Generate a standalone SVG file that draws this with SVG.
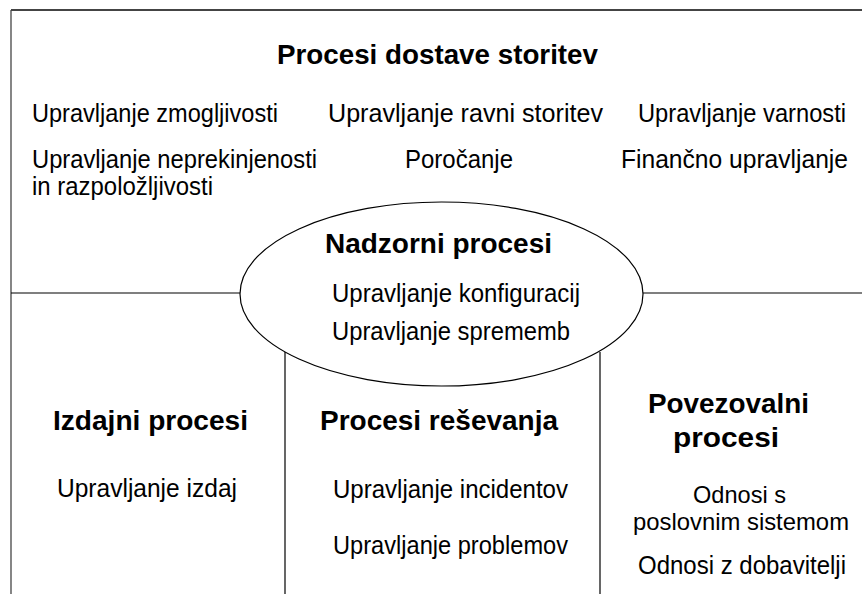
<svg xmlns="http://www.w3.org/2000/svg" width="862" height="594" viewBox="0 0 862 594">
<style>
text{font-family:"Liberation Sans",Arial,sans-serif;fill:#000}
.h{font-weight:bold;font-size:28px}
.t{font-size:25px}
.s{font-size:24px}
.ln{stroke:#000;stroke-width:1.2;fill:none}
.bd{stroke:#444;fill:none}
</style>
<rect width="862" height="594" fill="#fff"/>
<g id="connectors">
<line class="bd" x1="11" y1="10" x2="862" y2="10" stroke-width="2"/>
<line class="bd" x1="11" y1="10" x2="11" y2="594" stroke-width="1.3"/>
<line class="ln" x1="11" y1="293" x2="240" y2="293"/>
<line class="ln" x1="643" y1="293" x2="862" y2="293"/>
<line class="ln" x1="285" y1="352" x2="285" y2="594"/>
<line class="ln" x1="600" y1="352" x2="600" y2="594"/>
</g>
<g id="dostava">
<text class="h" x="277" y="64" textLength="321" lengthAdjust="spacingAndGlyphs">Procesi dostave storitev</text>
<text class="t" x="32" y="122" textLength="246" lengthAdjust="spacingAndGlyphs">Upravljanje zmogljivosti</text>
<text class="t" x="328" y="122" textLength="275" lengthAdjust="spacingAndGlyphs">Upravljanje ravni storitev</text>
<text class="t" x="638" y="122" textLength="208" lengthAdjust="spacingAndGlyphs">Upravljanje varnosti</text>
<text class="t" x="32" y="168" textLength="285" lengthAdjust="spacingAndGlyphs">Upravljanje neprekinjenosti</text>
<text class="t" x="32" y="195" textLength="181" lengthAdjust="spacingAndGlyphs">in razpoložljivosti</text>
<text class="t" x="405" y="168" textLength="108" lengthAdjust="spacingAndGlyphs">Poročanje</text>
<text class="t" x="621" y="168" textLength="227" lengthAdjust="spacingAndGlyphs">Finančno upravljanje</text>
</g>
<g id="nadzorni">
<ellipse class="ln" cx="441.5" cy="294" rx="201.5" ry="92" fill="#fff"/>
<text class="h" x="325" y="253" textLength="227" lengthAdjust="spacingAndGlyphs">Nadzorni procesi</text>
<text class="t" x="332" y="302" textLength="248" lengthAdjust="spacingAndGlyphs">Upravljanje konfiguracij</text>
<text class="t" x="332" y="340" textLength="238" lengthAdjust="spacingAndGlyphs">Upravljanje sprememb</text>
</g>
<g id="izdajni">
<text class="h" x="53" y="430" textLength="195" lengthAdjust="spacingAndGlyphs">Izdajni procesi</text>
<text class="t" x="57" y="497" textLength="180" lengthAdjust="spacingAndGlyphs">Upravljanje izdaj</text>
</g>
<g id="resevanje">
<text class="h" x="320" y="430" textLength="238" lengthAdjust="spacingAndGlyphs">Procesi reševanja</text>
<text class="t" x="333" y="498" textLength="235" lengthAdjust="spacingAndGlyphs">Upravljanje incidentov</text>
<text class="t" x="333" y="554" textLength="235" lengthAdjust="spacingAndGlyphs">Upravljanje problemov</text>
</g>
<g id="povezovalni">
<text class="h" x="648" y="413" textLength="161" lengthAdjust="spacingAndGlyphs">Povezovalni</text>
<text class="h" x="673" y="447" textLength="106" lengthAdjust="spacingAndGlyphs">procesi</text>
<text class="s" x="693" y="503" textLength="93" lengthAdjust="spacingAndGlyphs">Odnosi s</text>
<text class="s" x="633" y="530" textLength="216" lengthAdjust="spacingAndGlyphs">poslovnim sistemom</text>
<text class="t" x="638" y="574" textLength="208" lengthAdjust="spacingAndGlyphs">Odnosi z dobavitelji</text>
</g>
</svg>
